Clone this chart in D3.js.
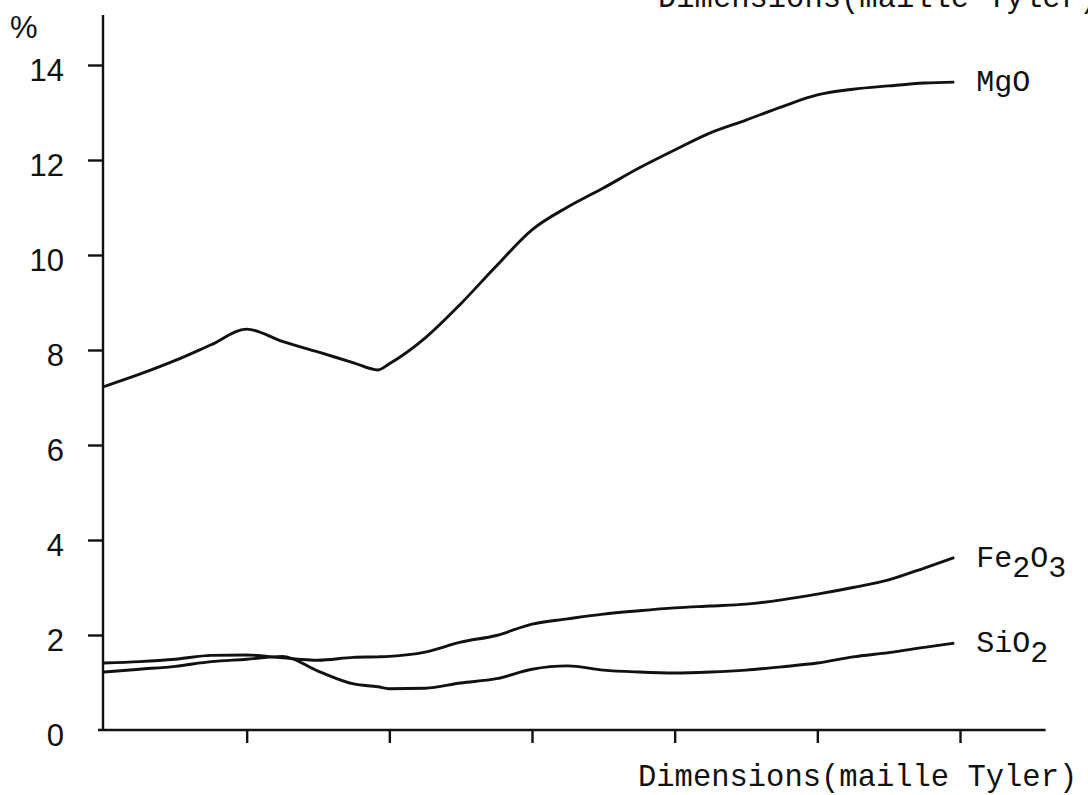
<!DOCTYPE html>
<html>
<head>
<meta charset="utf-8">
<script src="https://cdn.jsdelivr.net/npm/d3@7"></script>
<style>
  html, body { margin: 0; padding: 0; background: #fff; }
  svg { display: block; }
</style>
</head>
<body>
<div id="chart"></div>
<script>
// values (x in units of the x-axis tick spacing, y in %)
var dims = [0, 0.25, 0.5, 0.75, 1, 1.25, 1.5, 1.75, 1.92, 2, 2.25, 2.5, 2.75, 3,
            3.25, 3.5, 3.75, 4, 4.25, 4.5, 4.75, 5, 5.25, 5.5, 5.75, 5.96];
var mgo = [7.23, 7.49, 7.78, 8.11, 8.44, 8.18, 7.96, 7.73, 7.58, 7.71, 8.25, 8.97, 9.77, 10.53,
           11.01, 11.41, 11.83, 12.21, 12.57, 12.84, 13.12, 13.37, 13.49, 13.56, 13.62, 13.64];
var fe2o3 = [1.41, 1.44, 1.49, 1.57, 1.58, 1.52, 1.47, 1.53, 1.54, 1.55, 1.64, 1.85, 1.99, 2.23,
             2.34, 2.44, 2.51, 2.57, 2.61, 2.65, 2.74, 2.86, 3.00, 3.16, 3.41, 3.63];
var sio2 = [1.22, 1.28, 1.34, 1.44, 1.49, 1.55, 1.24, 0.97, 0.91, 0.87, 0.88, 0.99, 1.08, 1.28,
            1.35, 1.26, 1.22, 1.20, 1.22, 1.26, 1.33, 1.41, 1.54, 1.63, 1.74, 1.83];
var yTicks = [0, 2, 4, 6, 8, 10, 12, 14];
var xTicks = [1, 2, 3, 4, 5, 6];
var axisTitle = "Dimensions(maille Tyler)";

var series = [
  { label: [["Mg", 0], ["O", 0]], values: mgo },
  { label: [["Fe", 0], ["2", 1], ["O", 0], ["3", 1]], values: fe2o3 },
  { label: [["SiO", 0], ["2", 1]], values: sio2 }
];

var width = 1088, height = 795;
var mono = "'Liberation Mono', 'DejaVu Sans Mono', monospace";

var svg = d3.select("#chart").append("svg")
  .attr("width", width)
  .attr("height", height);

// scales
var x = d3.scaleLinear().domain([0, 6]).range([104, 960]);
var y = d3.scaleLinear().domain([0, 14]).range([730, 65]);

// axis lines
svg.append("line")
  .attr("x1", 103).attr("x2", 103)
  .attr("y1", 15).attr("y2", y(0))
  .attr("stroke", "#111").attr("stroke-width", 2.4);
svg.append("line")
  .attr("x1", 98).attr("x2", x(6.6))
  .attr("y1", y(0)).attr("y2", y(0))
  .attr("stroke", "#111").attr("stroke-width", 2.4);

// y axis
var yAxis = svg.append("g")
  .attr("transform", "translate(103,0)")
  .call(d3.axisLeft(y).tickValues(yTicks).tickSize(15).tickSizeOuter(0).tickPadding(24));
yAxis.select(".domain").remove();
yAxis.selectAll(".tick line")
  .attr("stroke", "#111").attr("stroke-width", 2.4)
  .filter(function(d) { return d === 0; }).remove();
yAxis.selectAll(".tick text")
  .attr("dy", "0.5em")
  .style("font-family", "'Liberation Sans', Arial, sans-serif")
  .style("font-size", "31px")
  .attr("fill", "#111");

// x axis ticks only
var xAxis = svg.append("g")
  .attr("transform", "translate(0," + y(0) + ")")
  .call(d3.axisBottom(x).tickValues(xTicks).tickSize(13).tickSizeOuter(0).tickFormat(""));
xAxis.select(".domain").remove();
xAxis.selectAll(".tick line").attr("stroke", "#111").attr("stroke-width", 2.4);

// unit
svg.append("text")
  .attr("x", 10).attr("y", 38)
  .style("font-family", "'Liberation Sans', Arial, sans-serif")
  .style("font-size", "31px")
  .attr("fill", "#111")
  .text("%");

// axis titles (one cut off at the top, as scanned)
svg.append("text")
  .attr("x", 638).attr("y", 786)
  .style("font-family", mono).style("font-size", "30.5px")
  .attr("fill", "#111")
  .text(axisTitle);
svg.append("text")
  .attr("x", 658).attr("y", 7)
  .style("font-family", mono).style("font-size", "30.5px")
  .attr("fill", "#111")
  .text(axisTitle);

// curves
var line = d3.line()
  .x(function(d, i) { return x(dims[i]); })
  .y(function(d) { return y(d); })
  .curve(d3.curveMonotoneX);

svg.append("g").selectAll("path")
  .data(series)
  .enter().append("path")
  .attr("d", function(d) { return line(d.values); })
  .attr("fill", "none")
  .attr("stroke", "#111")
  .attr("stroke-width", 2.9)
  .attr("stroke-linejoin", "round");

// labels at the end of each curve
var labels = svg.append("g").selectAll("text")
  .data(series)
  .enter().append("text")
  .attr("x", function(d) { return x(dims[dims.length - 1]) + 22; })
  .attr("y", function(d) { return y(d.values[d.values.length - 1]) + 9; })
  .style("font-family", mono).style("font-size", "30px")
  .attr("fill", "#111");

labels.each(function(d) {
  var t = d3.select(this), prev = 0;
  d.label.forEach(function(p) {
    var shift = p[1] ? 10 : 0;
    t.append("tspan").attr("dy", shift - prev).text(p[0]);
    prev = shift;
  });
});
</script>
</body>
</html>
